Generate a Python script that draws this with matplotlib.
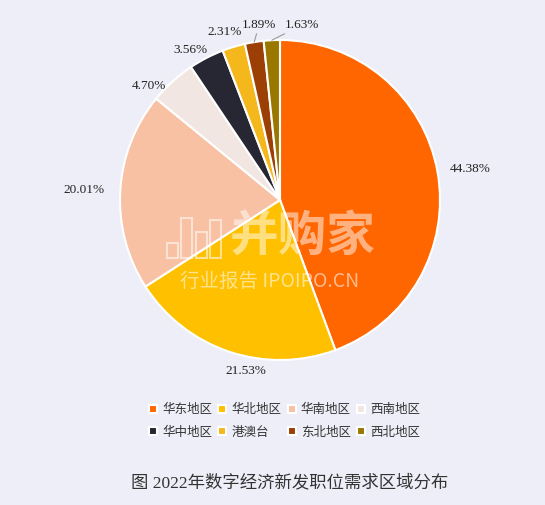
import matplotlib
matplotlib.use("Agg")
import matplotlib.pyplot as plt
from matplotlib.patches import Rectangle
import numpy as np

regions = ["华东地区", "华北地区", "华南地区", "西南地区", "华中地区", "港澳台", "东北地区", "西北地区"]
shares = [44.38, 21.53, 20.01, 4.70, 3.56, 2.31, 1.89, 1.63]
colors = ["#FF6600", "#FFC000", "#F8C1A3", "#F2E6E3", "#262733", "#F5B81C", "#9C3F05", "#9A7800"]
title = "图 2022年数字经济新发职位需求区域分布"

# label nudges (px) for the crowded small slices at the top
nudge_x = [-4, 42, 0, 4, 8, 13, 22, 13]
nudge_y = [0, -4, 0, -16, -6, 0, 0, 0]
label_ha = [None, None, None, None, None, None, "right", "left"]
leader = [False, False, False, False, False, False, True, True]

bg = "#EEEEF8"
serif = ["Liberation Serif", "Noto Sans CJK SC"]
cjk = ["Noto Sans CJK SC", "DejaVu Sans"]

fig = plt.figure(figsize=(5.45, 5.05), dpi=100, facecolor=bg)
ax = fig.add_axes([120 / 545, (505 - 360) / 505, 320 / 545, 320 / 505])
ax.set_facecolor(bg)

wedges, _ = ax.pie(shares, colors=colors, startangle=90, counterclock=False,
                   wedgeprops=dict(edgecolor="white", linewidth=1.5))
ax.set_xlim(-1, 1)
ax.set_ylim(-1, 1)
ax.set_aspect("equal")
ax.axis("off")

px = 2.0 / 320  # data units per pixel
for i, w in enumerate(wedges):
    ang = np.deg2rad((w.theta1 + w.theta2) / 2)
    c, s = np.cos(ang), np.sin(ang)
    ha = label_ha[i] or ("left" if c >= 0 else "right")
    txt = "%.2f%%" % shares[i]
    if leader[i]:
        tx = c + nudge_x[i] * px
        ty = 1.0 + 15 * px
        ax.annotate(txt, xy=(c, s), xytext=(tx, ty), ha=ha, va="center",
                    fontsize=9.5, family=serif, color="#222222",
                    arrowprops=dict(arrowstyle="-", color="#999999", lw=0.8,
                                    shrinkA=0, shrinkB=0))
    else:
        tx = 1.1 * c + nudge_x[i] * px
        ty = 1.1 * s + nudge_y[i] * px
        ax.text(tx, ty, txt, ha=ha, va="center", fontsize=9.5,
                family=serif, color="#222222")

# watermark
fig.text(303 / 545, 1 - 237 / 505, "并购家", ha="center", va="center", fontsize=35,
         family=cjk, color="white", alpha=0.5, weight="bold")
fig.text(270 / 545, 1 - 281 / 505, "行业报告 IPOIPO.CN", ha="center", va="center",
         fontsize=14, family=cjk, color="white", alpha=0.55)
for x0, top in [(167, 243), (181, 218), (196, 232), (210, 220)]:
    fig.patches.append(Rectangle((x0 / 545, 1 - 258 / 505), 11 / 545, (258 - top) / 505,
                                 transform=fig.transFigure, fill=False,
                                 edgecolor="white", alpha=0.55, lw=1.5))

order = [0, 4, 1, 5, 2, 6, 3, 7]
leg = fig.legend([wedges[k] for k in order], [regions[k] for k in order],
                 loc="center", bbox_to_anchor=(0.522, 1 - 421 / 505), ncol=4,
                 frameon=False, prop=dict(family=cjk, size=9),
                 handlelength=0.65, handleheight=0.65, handletextpad=0.4,
                 columnspacing=0.5, labelspacing=0.75, labelcolor="#333333")

fig.text(0.532, 1 - 483 / 505, title, ha="center", va="center",
         fontsize=12.5, family=serif, color="#333333")

fig.savefig("out.png", dpi=100, facecolor=bg)
